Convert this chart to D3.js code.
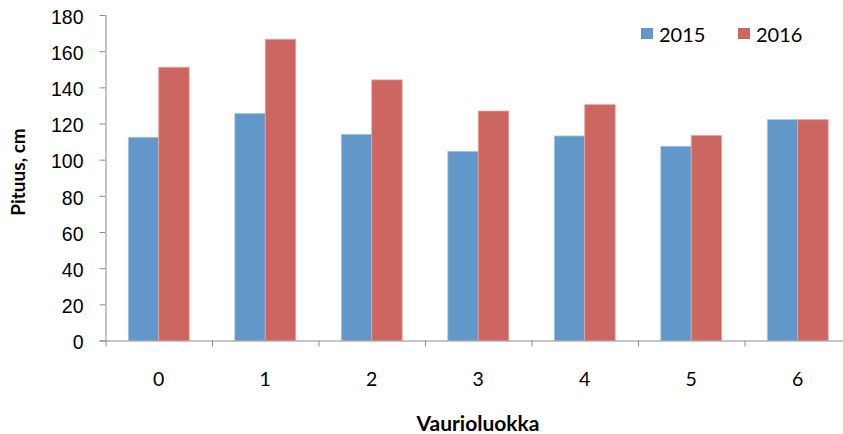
<!DOCTYPE html>
<html>
<head>
<meta charset="utf-8">
<script src="https://cdn.jsdelivr.net/npm/d3@7"></script>
<style>
  html, body { margin: 0; padding: 0; background: #fff; }
  svg { display: block; font-family: Lato, "Open Sans", sans-serif; }
</style>
</head>
<body>
<svg id="chart" width="843" height="434"></svg>
<script>
// Vaurioluokka categories and mean height (cm) per year
const categories = ["0", "1", "2", "3", "4", "5", "6"];
const seriesNames = ["2015", "2016"];
const values2015 = [112.4, 125.6, 114.0, 104.6, 113.1, 107.4, 122.1];
const values2016 = [151.1, 166.6, 144.1, 126.9, 130.4, 113.3, 122.1];
const yTicks = [0, 20, 40, 60, 80, 100, 120, 140, 160, 180];
const colors = ["#6197c9", "#cd6661"];
const strokes = ["#a9c6e4", "#e3a3a0"];

const svg = d3.select("#chart");
const plotLeft = 105.5, plotRight = 851, plotTop = 15, plotBottom = 340.5;

const x = d3.scaleBand().domain(categories).range([plotLeft, plotRight]).paddingInner(0).paddingOuter(0);
const xs = d3.scaleBand().domain(seriesNames).range([0, x.bandwidth()]).paddingInner(0).paddingOuter(0.75);
const y = d3.scaleLinear().domain([0, 180]).range([plotBottom, plotTop]);

const table = categories.map((c, i) => ({ cat: c, vals: [values2015[i], values2016[i]] }));

// bars
const groups = svg.append("g").selectAll("g").data(table).join("g")
  .attr("transform", d => `translate(${x(d.cat)},0)`);
groups.selectAll("rect").data(d => d.vals.map((v, j) => ({ v, j })))
  .join("rect")
  .attr("x", d => xs(seriesNames[d.j]))
  .attr("y", d => y(d.v))
  .attr("width", xs.bandwidth())
  .attr("height", d => y(0) - y(d.v))
  .attr("fill", d => colors[d.j])
  .attr("stroke", d => strokes[d.j])
  .attr("stroke-width", 0.8);

// y axis
const yAxis = svg.append("g").attr("transform", `translate(${plotLeft},0)`)
  .call(d3.axisLeft(y).tickValues(yTicks).tickSize(6).tickPadding(16));
yAxis.select(".domain").attr("stroke", "#8c8c8c").attr("d", `M0.5,${plotTop}V${plotBottom}`);
yAxis.selectAll(".tick line").attr("stroke", "#8c8c8c");
yAxis.selectAll(".tick text").attr("font-size", 19.5).attr("fill", "#000").attr("dy", "0.42em");

// x axis: boundary ticks between categories, labels at centres
const xAxis = svg.append("g").attr("transform", `translate(0,${plotBottom})`);
xAxis.append("line").attr("x1", plotLeft - 6).attr("x2", plotRight).attr("y1", 0.5).attr("y2", 0.5)
  .attr("stroke", "#8c8c8c");
xAxis.selectAll("line.b").data(categories).join("line").attr("class", "b")
  .attr("x1", d => x(d) + 0.5).attr("x2", d => x(d) + 0.5)
  .attr("y1", 0).attr("y2", 6).attr("stroke", "#8c8c8c");
xAxis.selectAll("text").data(categories).join("text")
  .attr("x", d => x(d) + x.bandwidth() / 2)
  .attr("y", 45.5)
  .attr("text-anchor", "middle")
  .attr("font-size", 19.5)
  .text(d => d);

// axis titles
svg.append("text").attr("x", 478).attr("y", 431).attr("text-anchor", "middle")
  .attr("font-size", 21).attr("font-weight", "bold").text("Vaurioluokka");
svg.append("text").attr("transform", "translate(25,172) rotate(-90)").attr("text-anchor", "middle")
  .attr("font-size", 19).attr("font-weight", "bold").text("Pituus, cm");

// legend
const legend = svg.append("g");
const lx = [641, 738];
seriesNames.forEach((s, i) => {
  legend.append("rect").attr("x", lx[i]).attr("y", 28).attr("width", 12).attr("height", 11)
    .attr("fill", colors[i]);
  legend.append("text").attr("x", lx[i] + 18).attr("y", 42).attr("font-size", 20).text(s);
});
</script>
</body>
</html>
